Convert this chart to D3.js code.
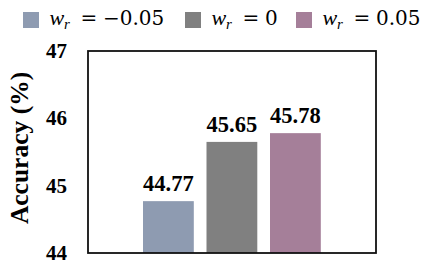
<!DOCTYPE html>
<html>
<head>
<meta charset="utf-8">
<script src="https://cdn.jsdelivr.net/npm/d3@7"></script>
<style>
  body { margin: 0; background: #fff; }
  svg { display: block; }
  .tick-label { font-family: "Liberation Serif", "Times New Roman", serif; font-weight: bold; font-size: 21px; }
</style>
</head>
<body>
<div id="chart"></div>
<script>
// data
var series_names = ['-0.05', '0', '0.05'];
var series_labels = ['\u22120.05', '0', '0.05'];
var accuracy = [44.77, 45.65, 45.78];
var y_ticks = [44, 45, 46, 47];
var bar_colors = ['#8e9bb1', '#808080', '#a57f99'];

var width = 422;
var height = 264;
var box = {left: 88, top: 51, right: 376, bottom: 253};
var label_font = '"Liberation Serif", "Times New Roman", serif';
var math_font = '"DejaVu Serif", serif';

var svg = d3.select('#chart')
  .append('svg')
  .attr('width', width)
  .attr('height', height);

var y = d3.scaleLinear()
  .domain([44, 47])
  .range([box.bottom, box.top]);

var x = d3.scaleBand()
  .domain(series_names)
  .range([136.65, 327.15])
  .paddingInner(0.2)
  .paddingOuter(0.1);

// bars
svg.append('g')
  .selectAll('rect')
  .data(accuracy)
  .enter()
  .append('rect')
  .attr('x', function(d, i){ return x(series_names[i]); })
  .attr('width', x.bandwidth())
  .attr('y', function(d){ return y(d); })
  .attr('height', function(d){ return y(44) - y(d); })
  .style('fill', function(d, i){ return bar_colors[i]; });

// value labels
svg.append('g')
  .selectAll('text')
  .data(accuracy)
  .enter()
  .append('text')
  .attr('x', function(d, i){ return x(series_names[i]) + x.bandwidth()/2; })
  .attr('y', function(d){ return y(d) - 10; })
  .style('text-anchor', 'middle')
  .style('font-family', label_font)
  .style('font-weight', 'bold')
  .style('font-size', '22.5px')
  .style('fill', '#000')
  .text(function(d){ return d.toFixed(2); });

// plot border
svg.append('rect')
  .attr('x', box.left)
  .attr('y', box.top)
  .attr('width', box.right - box.left)
  .attr('height', box.bottom - box.top)
  .style('fill', 'none')
  .style('stroke', '#111')
  .style('stroke-width', 1.8);

// y tick labels (no tick lines in the original)
svg.append('g')
  .selectAll('text')
  .data(y_ticks)
  .enter()
  .append('text')
  .classed('tick-label', true)
  .attr('x', 67)
  .attr('y', function(d){ return y(d); })
  .attr('dy', '0.33em')
  .style('text-anchor', 'end')
  .style('fill', '#000')
  .text(function(d){ return d; });

svg.append('text')
  .attr('transform', 'translate(' + 28 + ',' + 148 + ') rotate(-90)')
  .style('text-anchor', 'middle')
  .style('font-family', label_font)
  .style('font-weight', 'bold')
  .style('font-size', '25.5px')
  .style('fill', '#000')
  .text('Accuracy (%)');

// legend
var legend_x = [23, 185, 296];
var legend = svg.append('g')
  .selectAll('g')
  .data(series_labels)
  .enter()
  .append('g')
  .attr('transform', function(d, i){ return 'translate(' + legend_x[i] + ',' + 12 + ')'; });

legend.append('rect')
  .attr('width', 16)
  .attr('height', 16)
  .style('fill', function(d, i){ return bar_colors[i]; });

var legend_text = legend.append('text')
  .attr('y', 13)
  .style('fill', '#000');

var w_x = 26.5;
legend_text.append('tspan')
  .attr('x', w_x)
  .style('font-family', label_font)
  .style('font-style', 'italic')
  .style('font-size', '22px')
  .text('w');
legend_text.append('tspan')
  .attr('x', w_x + 14.5)
  .attr('dy', 4)
  .style('font-family', label_font)
  .style('font-style', 'italic')
  .style('font-size', '15px')
  .text('r');
legend_text.append('tspan')
  .attr('x', w_x + 31)
  .attr('dy', -4)
  .style('font-family', math_font)
  .style('font-size', '20px')
  .text('=');
legend_text.append('tspan')
  .attr('x', w_x + 53.5)
  .style('font-family', math_font)
  .style('font-size', '20px')
  .text(function(d){ return d; });
</script>
</body>
</html>
